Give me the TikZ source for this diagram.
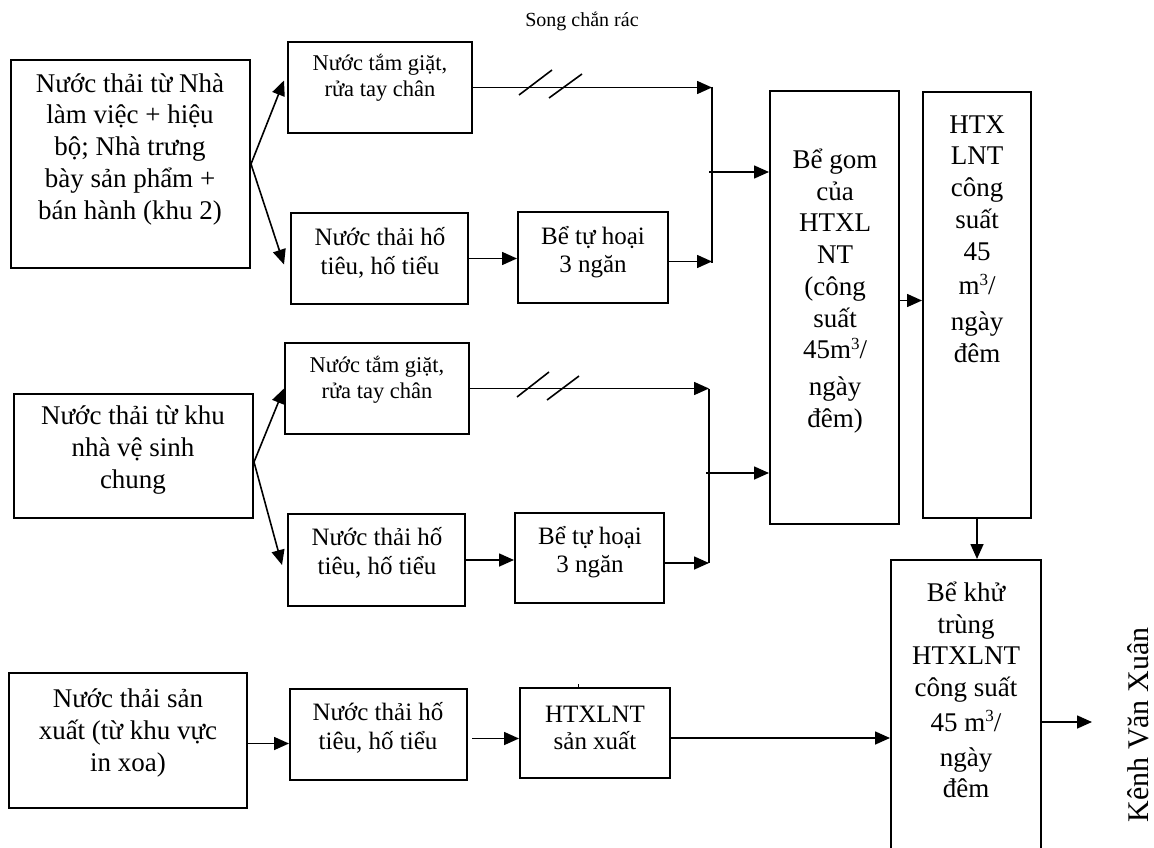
\documentclass[tikz,border=0pt]{standalone}
\usepackage{fontspec}
\setmainfont{Liberation Serif}
\usetikzlibrary{arrows.meta,fit,calc}
% raised "3" for cubic metres
\newcommand\supthree{\raisebox{0.36em}{\fontsize{17}{17}\selectfont 3}}
\tikzset{
  box/.style={draw, line width=2pt, inner sep=0pt},
  lbl/.style={inner sep=0pt, align=center},
  txtbig/.style={lbl, font=\fontsize{27}{31.75}\selectfont},
  txtsmall/.style={lbl, font=\fontsize{22.5}{26}\selectfont},
  txtmid/.style={lbl, font=\fontsize{25}{28.5}\selectfont},
  txttank/.style={lbl, font=\fontsize{25}{27.5}\selectfont},
  flow/.style={line width=1.6pt, -{Triangle[length=15pt,width=13pt]}},
  pipe/.style={line width=1.6pt},
  screenmark/.style={line width=1.6pt},
}
\begin{document}
\begin{tikzpicture}[x=1pt,y=-1pt]
\useasboundingbox (0,0) rectangle (1154,848);
\clip (0,0) rectangle (1154,848);

% ---- boxes ----
\node[box, fit={(11,60) (250,268)}]   (a1) {};
\node[box, fit={(288,42) (472,133)}]  (b1) {};
\node[box, fit={(291,213) (468,304)}] (c1) {};
\node[box, fit={(518,212) (668,303)}] (d1) {};
\node[box, fit={(14,394) (253,518)}]  (a2) {};
\node[box, fit={(285,343) (469,434)}] (b2) {};
\node[box, fit={(288,514) (465,606)}] (c2) {};
\node[box, fit={(515,513) (664,603)}] (d2) {};
\node[box, fit={(770,91) (899,524)}]  (e)  {};
\node[box, fit={(923,92) (1031,518)}] (f)  {};
\node[box, fit={(891,560) (1041,884)}] (g) {};
\node[box, fit={(9,673) (247,808)}]   (h)  {};
\node[box, fit={(290,689) (467,780)}] (i)  {};
\node[box, fit={(520,688) (670,778)}] (j)  {};

% ---- texts ----
\node[lbl, font=\fontsize{20}{24}\selectfont] (title) at (582,21) {Song chắn rác};
\node[txtbig] (ta1) at (130,149) {Nước thải từ Nhà\\làm việc + hiệu\\bộ; Nhà trưng\\bày sản phẩm +\\bán hành (khu 2)};
\node[txtsmall] (tb1) at (380,78) {Nước tắm giặt,\\rửa tay chân};
\node[txtmid] (tc1) at (380,253) {Nước thải hố\\tiêu, hố tiểu};
\node[txttank] (td1) at (593,252) {Bể tự hoại\\3 ngăn};
\node[txtbig] (ta2) at (133,450) {Nước thải từ khu\\nhà vệ sinh\\chung};
\node[txtsmall] (tb2) at (377,380) {Nước tắm giặt,\\rửa tay chân};
\node[txtmid] (tc2) at (377,553) {Nước thải hố\\tiêu, hố tiểu};
\node[txttank] (td2) at (590,552) {Bể tự hoại\\3 ngăn};
\node[txtbig] (te) at (835,291) {Bể gom\\của\\HTXL\\NT\\(công\\suất\\45m\supthree/\\[5pt]ngày\\đêm)};
\node[txtbig] (tf) at (977,239) {HTX\\LNT\\công\\suất\\45\\[3pt]m\supthree/\\[4pt]ngày\\đêm};
\node[txtbig] (tg) at (966,690) {Bể khử\\trùng\\HTXLNT\\công suất\\[3pt]45 m\supthree/\\[3pt]ngày\\đêm};
\node[txtbig] (th) at (128,733) {Nước thải sản\\xuất (từ khu vực\\in xoa)};
\node[txtmid] (ti) at (378,728) {Nước thải hố\\tiêu, hố tiểu};
\node[txttank] (tj) at (595,728) {HTXLNT\\sản xuất};
\node[lbl, rotate=90, anchor=base, font=\fontsize{30}{36}\selectfont] (kenh) at (1148,725) {Kênh Văn Xuân};

% ---- junction points ----
\coordinate (j1t) at (712,87);
\coordinate (j1b) at (712,263);
\coordinate (j1m) at (709,172);
\coordinate (j2t) at (709,389);
\coordinate (j2b) at (709,563);
\coordinate (j2m) at (706,473);
\coordinate (outlet) at (1092,722);

% ---- first group ----
\draw[flow] (a1.east) -- ([xshift=-3pt,yshift=7pt]b1.west);
\draw[flow] (a1.east) -- ([xshift=-6pt,yshift=-6pt]c1.west);
\draw[flow] (b1.east) -- (b1.east -| j1t);
\draw[screenmark] (519,95) -- (552,70);
\draw[screenmark] (549,98) -- (582,74);
\draw[flow] (c1.east) -- (c1.east -| d1.west);
\draw[flow] ([yshift=-4pt]d1.east) -- ([yshift=-4pt]d1.east -| j1b);
\draw[pipe] (j1t) -- (j1b);
\draw[flow] (j1m) -- (j1m -| e.west);

% ---- second group ----
\draw[flow] ([yshift=-6pt]a2.east) -- ([yshift=0pt]b2.west);
\draw[flow] ([yshift=-6pt]a2.east) -- ([xshift=-5pt,yshift=-5pt]c2.west);
\draw[flow] (b2.east) -- (b2.east -| j2t);
\draw[screenmark] (517,397) -- (549,372);
\draw[screenmark] (547,400) -- (579,376);
\draw[flow] (c2.east) -- (c2.east -| d2.west);
\draw[flow] ([yshift=-5pt]d2.east) -- ([yshift=-5pt]d2.east -| j2b);
\draw[pipe] (j2t) -- (j2b);
\draw[flow] (j2m) -- (j2m -| e.west);

% ---- treatment chain ----
\draw[flow] ([yshift=7pt]e.east) -- ([yshift=7pt]e.east -| f.west);
\draw[flow] (f.south) -- (f.south |- g.north);
\draw[flow] (g.east) -- (outlet);

% ---- production line ----
\draw[flow] ([yshift=-3pt]h.east) -- ([yshift=-3pt]h.east -| i.west);
\draw[flow, shorten <=4pt] ([yshift=-4pt]i.east) -- ([yshift=-4pt]i.east -| j.west);
\draw[flow] ([yshift=-5pt]j.east) -- ([yshift=-5pt]j.east -| g.west);
\draw[line width=1pt] (578,684) -- (578,688);
\end{tikzpicture}
\end{document}
